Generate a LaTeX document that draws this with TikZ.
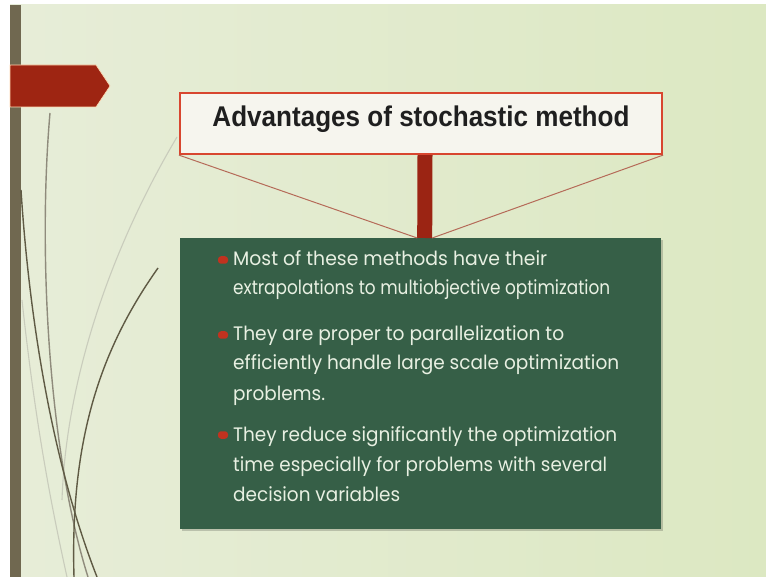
\documentclass[tikz,border=0pt]{standalone}
\usepackage{graphicx}
\usepackage{fontspec}
\newfontfamily\bodyfont{Poppins}
\newfontfamily\headfont{Liberation Sans}

% each text line keeps its glyph height and is set to a given width
\newcommand\fitline[2]{\resizebox{#1pt}{\height}{#2}}

\definecolor{bgL}{HTML}{E7EDD8}
\definecolor{bgM}{HTML}{F3F5EB}
\definecolor{bgR}{HTML}{DCE8C2}
\definecolor{barbrown}{HTML}{706850}
\definecolor{arrowred}{HTML}{9E2512}
\definecolor{frame}{HTML}{D8462F}
\definecolor{boxfill}{HTML}{F6F5EE}
\definecolor{stem}{HTML}{9B2413}
\definecolor{thinred}{HTML}{B56A58}
\definecolor{panel}{HTML}{365F47}
\definecolor{txtcol}{HTML}{E8F0E2}
\definecolor{dot}{HTML}{C1321F}
\definecolor{stemdark}{HTML}{5F5A44}
\definecolor{stemlight}{HTML}{C9CCBC}

\tikzset{
  bodytxt/.style={font=\bodyfont\fontsize{19.5pt}{19.5pt}\selectfont,
    text=txtcol, inner sep=0pt, anchor=base west},
  headtxt/.style={font=\headfont\bfseries\fontsize{28.5pt}{28.5pt}\selectfont,
    text=black!88, inner sep=0pt, anchor=base},
  titlebox/.style={draw=frame, line width=2.2pt, fill=boxfill,
    minimum width=482pt, minimum height=61pt, inner sep=0pt},
  panelbox/.style={fill=panel, minimum width=481pt, minimum height=291pt,
    inner sep=0pt, anchor=north west},
  bulletmark/.style={fill=dot, minimum width=10pt, minimum height=7.5pt,
    rounded corners=3pt, inner sep=0pt},
  darkstem/.style={draw=stemdark, line width=1.4pt},
  lightstem/.style={draw=stemlight, line width=1.1pt},
}

\begin{document}
\begin{tikzpicture}[x=1pt,y=-1pt]
\useasboundingbox (0,0) rectangle (766,577);

% slide background
\fill[white] (0,0) rectangle (766,577);
\shade[left color=bgL, middle color=bgM, right color=bgR] (10,5) rectangle (766,577);
\fill[barbrown] (10,5) rectangle (21,577);

% decorative grass stems
\draw[lightstem] (177,137) .. controls (110,250) and (66,380) .. (62,500);
\draw[lightstem] (22,300) .. controls (35,420) and (50,500) .. (67,577);
\draw[darkstem, draw=stemdark!70] (50,113) .. controls (38,250) and (48,450) .. (88,577);
\draw[darkstem] (21,190) .. controls (30,330) and (55,470) .. (97,577);
\draw[darkstem] (158,268) .. controls (100,350) and (70,440) .. (74,577);

% arrow tab on the left
\fill[arrowred, draw=orange!30, line width=0.6pt]
  (10,65) -- (96,65) -- (110,86) -- (96,107) -- (10,107) -- cycle;

% heading box
\node[titlebox] (title) at (421,123.5) {};
\node[headtxt] (titletxt) at (421,127) {\fitline{417}{Advantages of stochastic method}};

% content panel
\fill[black, opacity=0.18] (182,240) rectangle (663,531);
\node[panelbox] (body) at (180,238) {};

% stem and the two tie lines
\draw[stem, line width=15pt] ([xshift=4pt]title.south) -- ([xshift=4pt]body.north);
\coordinate (tieL) at ([xshift=-3.5pt]body.north);
\coordinate (tieR) at ([xshift=11.5pt]body.north);
\draw[thinred, line width=1pt] (title.south west) -- (tieL);
\draw[thinred, line width=1pt] (title.south east) -- (tieR);

% bullets
\node[bulletmark] (b1) at (223,260) {};
\node[bulletmark] (b2) at (223,335) {};
\node[bulletmark] (b3) at (223,435) {};

% bullet text
\node[bodytxt] (l1) at (233,266) {\fitline{314}{Most of these methods have their}};
\node[bodytxt] (l2) at (233,295) {\fitline{377}{extrapolations to multiobjective optimization}};
\node[bodytxt] (l3) at (233,341) {\fitline{331}{They are proper to parallelization to}};
\node[bodytxt] (l4) at (233,370) {\fitline{386}{efficiently handle large scale optimization}};
\node[bodytxt] (l5) at (233,400) {\fitline{92}{problems.}};
\node[bodytxt] (l6) at (233,441) {\fitline{384}{They reduce significantly the optimization}};
\node[bodytxt] (l7) at (233,471) {\fitline{374}{time especially for problems with several}};
\node[bodytxt] (l8) at (233,501) {\fitline{167}{decision variables}};
\end{tikzpicture}
\end{document}
